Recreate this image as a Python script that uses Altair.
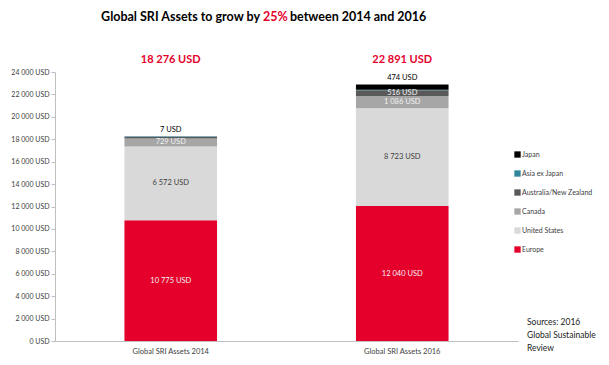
import altair as alt
import pandas as pd

categories = ["Global SRI Assets 2014", "Global SRI Assets 2016"]
series = ["Europe", "United States", "Canada", "Australia/New Zealand", "Asia ex Japan", "Japan"]
values_2014 = [10775, 6572, 729, 148, 45, 7]
values_2016 = [12040, 8723, 1086, 516, 52, 474]
shown_labels = {
    "Global SRI Assets 2014": ["Europe", "United States", "Canada", "Japan"],
    "Global SRI Assets 2016": ["Europe", "United States", "Canada", "Australia/New Zealand", "Japan"],
}
series_colors = ["#E4002B", "#D9D9D9", "#A6A6A6", "#595959", "#31869B", "#000000"]
light_label_series = ["Europe", "Canada", "Australia/New Zealand"]

rows = []
for cat, vals in zip(categories, [values_2014, values_2016]):
    for i, (s, v) in enumerate(zip(series, vals)):
        rows.append({"cat": cat, "series": s, "idx": i, "value": v,
                     "show": s in shown_labels[cat]})
df = pd.DataFrame(rows)

FONT = "Lato"
legend_order = list(reversed(series))
legend_colors = list(reversed(series_colors))

base = alt.Chart(df).transform_stack(
    stack="value", groupby=["cat"], sort=[alt.SortField("idx", order="ascending")], as_=["y0", "y1"]
)

xaxis = alt.Axis(labelAngle=0, labelFont=FONT, labelFontSize=7.5, labelColor="#404040",
                 domainColor="#BFBFBF", ticks=False, labelPadding=6, title=None)
yaxis = alt.Axis(values=list(range(0, 24001, 2000)), format="$,.0f", grid=False,
                 labelOverlap=False, title=None,
                 labelFont=FONT, labelFontSize=7, labelColor="#404040",
                 domainColor="#BFBFBF", tickColor="#BFBFBF", tickSize=4, labelPadding=2)
xscale = alt.Scale(paddingInner=0.6, paddingOuter=0.3)
yscale = alt.Scale(domain=[0, 24000], nice=False)

def X():
    return alt.X("cat:N", sort=categories, scale=xscale, axis=xaxis, title=None)

def Y(field):
    return alt.Y(field, scale=yscale, axis=yaxis, title=None)

bars = base.mark_bar(stroke=None).encode(
    x=X(),
    y=Y("y0:Q"),
    y2="y1:Q",
    color=alt.Color("series:N", scale=alt.Scale(domain=legend_order, range=legend_colors),
                    legend=alt.Legend(title=None, orient="none", legendX=459, legendY=79,
                                      symbolType="square", symbolSize=40, symbolStrokeWidth=0,
                                      labelFont=FONT, labelFontSize=7, labelColor="#404040",
                                      rowPadding=11, symbolOffset=0, labelOffset=1)),
    order=alt.Order("idx:Q"),
)

mid_labels = base.transform_filter(
    "datum.show && datum.series != 'Japan'"
).transform_calculate(mid="(datum.y0 + datum.y1) / 2").mark_text(
    font=FONT, fontSize=7.5, baseline="middle"
).encode(
    x=X(),
    y=Y("mid:Q"),
    text=alt.Text("value:Q", format="$,.0f"),
    color=alt.condition(alt.FieldOneOfPredicate(field="series", oneOf=light_label_series),
                        alt.value("#F2F2F2"), alt.value("#404040")),
)

top_labels = base.transform_filter(
    "datum.series == 'Japan'"
).mark_text(font=FONT, fontSize=7.5, baseline="bottom", dy=-2, color="#000000").encode(
    x=X(),
    y=Y("y1:Q"),
    text=alt.Text("value:Q", format="$,.0f"),
)

totals = alt.Chart(df).transform_aggregate(total="sum(value)", groupby=["cat"]).mark_text(
    font=FONT, fontSize=11, fontWeight="bold", color="#E4002B", baseline="middle"
).encode(
    x=X(),
    y=alt.value(-12),
    text=alt.Text("total:Q", format="$,.0f"),
)

title_df = pd.DataFrame({"a": [0]})
t1 = alt.Chart(title_df).mark_text(font=FONT, fontSize=12.5, fontWeight="bold", color="#000000",
                                   align="right", baseline="middle").encode(
    x=alt.value(205), y=alt.value(-55), text=alt.value("Global SRI Assets to grow by"))
t2 = alt.Chart(title_df).mark_text(font=FONT, fontSize=12.5, fontWeight="bold", color="#E4002B",
                                   align="left", baseline="middle").encode(
    x=alt.value(208), y=alt.value(-55), text=alt.value("25%"))
t3 = alt.Chart(title_df).mark_text(font=FONT, fontSize=12.5, fontWeight="bold", color="#000000",
                                   align="left", baseline="middle").encode(
    x=alt.value(235), y=alt.value(-55), text=alt.value("between 2014 and 2016"))
src = alt.Chart(title_df).mark_text(font=FONT, fontSize=8.5, color="#222222", align="left",
                                    baseline="middle", lineBreak="\n", lineHeight=13).encode(
    x=alt.value(472), y=alt.value(250), text=alt.value("Sources: 2016\nGlobal Sustainable\nReview"))

chart = alt.layer(bars, mid_labels, top_labels, totals, t1, t2, t3, src).properties(
    width=463, height=269,
    autosize=alt.AutoSizeParams(type="none"),
    padding={"left": 47, "top": 64, "right": 83, "bottom": 16},
).configure(
    locale={"number": {"decimal": ",", "thousands": " ", "grouping": [3], "currency": ["", " USD"]}}
).configure_view(stroke=None).configure_axis(labelOverlap=False)

chart.save("out.html", embed_options={"renderer": "svg", "actions": False})
